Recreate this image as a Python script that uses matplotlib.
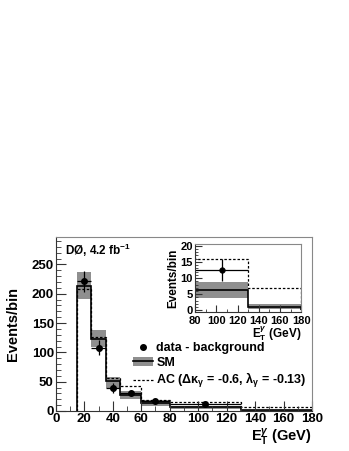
import numpy as np
from matplotlib import pyplot as plt
from matplotlib.lines import Line2D
from matplotlib.patches import Patch

# Bin edges in photon E_T (GeV)
edges = [15, 25, 35, 45, 60, 80, 130, 180]

# SM prediction and its uncertainty band
sm = [213, 123, 51, 28, 14, 6.3, 1.0]
sm_lo = [191, 109, 40, 21, 8.5, 3.8, 0.4]
sm_hi = [237, 138, 58, 34, 18, 8.9, 2.0]

# anomalous coupling prediction
ac = [208, 126, 56, 42, 18, 16, 6.9]

# data - background
data_x = [20, 30, 40, 52.5, 70, 105]
data_y = [221, 108, 40, 30.5, 17, 12.5]
data_err = [18, 13, 8.5, 5, 4, 3.5]

plt.rcParams["font.family"] = ["Liberation Sans", "DejaVu Sans"]
plt.rcParams["font.weight"] = "bold"
plt.rcParams["mathtext.fontset"] = "custom"
plt.rcParams["mathtext.rm"] = "Liberation Sans:bold"
plt.rcParams["mathtext.bf"] = "Liberation Sans:bold"
plt.rcParams["mathtext.it"] = "Liberation Sans:bold:italic"
plt.rcParams["mathtext.sf"] = "Liberation Sans:bold"

BAND = "#8f8f8f"
FRAME = "#888888"


def draw_hists(ax, ms=4):
    ax.stairs(sm_hi, edges, baseline=sm_lo, fill=True, color=BAND, lw=0)
    ax.stairs(sm, edges, baseline=0, color="black", lw=1.2)
    ax.stairs(ac, edges, baseline=0, color="black", lw=0.9, ls=(0, (2, 1.5)))
    widths = np.diff(edges)[: len(data_x)] / 2
    ax.errorbar(data_x, data_y, xerr=widths, yerr=data_err, fmt="o", ms=ms,
                color="black", elinewidth=0.9, capsize=0)


def style_frame(ax):
    for s in ax.spines.values():
        s.set_color(FRAME)
        s.set_linewidth(0.8)
    ax.spines["left"].set_color("#333333")
    ax.spines["bottom"].set_color("#333333")


fig = plt.figure(figsize=(3.49, 4.51), dpi=100)

# Main plot
ax = fig.add_axes([0.160, 0.0887, 0.734, 0.386])
draw_hists(ax)
ax.set_xlim(0, 180)
ax.set_ylim(0, 297)
ax.set_xticks(np.arange(0, 181, 20))
ax.set_xticks(np.arange(0, 181, 10), minor=True)
ax.set_yticks(np.arange(0, 251, 50))
ax.set_yticks(np.arange(0, 291, 10), minor=True)
ax.tick_params(which="both", direction="in", top=False, right=False,
               labelsize=9.5, pad=1.5, color="#333333")
ax.tick_params(which="major", length=7)
ax.tick_params(which="minor", length=3.5)
style_frame(ax)

ax.set_ylabel("Events/bin", fontsize=10.5, fontweight="bold")
ax.yaxis.set_label_coords(-0.14, 0.5)
ax.set_xlabel(r"$\mathbf{E}_\mathbf{T}^{\gamma}$ (GeV)", fontsize=10.5,
              fontweight="bold", loc="right", labelpad=1)
ax.text(0.035, 0.925, r"DØ, 4.2 fb$^{-1}$", transform=ax.transAxes,
        fontsize=8.5, fontweight="bold", va="center", ha="left")

handles = [
    Line2D([], [], marker="o", ms=4, ls="none", color="black"),
    (Patch(color=BAND, lw=0), Line2D([], [], color="black", lw=1.2)),
    Line2D([], [], color="black", lw=0.9, ls=(0, (2, 1.5))),
]
labels = [
    "data - background",
    "SM",
    r"AC (Δκ$_{\mathrm{γ}}$ = -0.6, λ$_{\mathrm{γ}}$ = -0.13)",
]
leg = ax.legend(handles, labels, loc="upper left", bbox_to_anchor=(0.30, 0.395),
                frameon=False, fontsize=9, handlelength=1.6,
                handletextpad=0.3, labelspacing=0.2, borderpad=0,
                borderaxespad=0)

# Inset
ins = fig.add_axes([0.559, 0.308, 0.304, 0.151])
draw_hists(ins, ms=3.5)
ins.set_xlim(80, 180)
ins.set_ylim(-0.5, 20.5)
ins.set_xticks(np.arange(80, 181, 20))
ins.set_xticks(np.arange(80, 181, 10), minor=True)
ins.set_yticks(np.arange(0, 21, 5))
ins.set_yticks(np.arange(0, 21, 1), minor=True)
ins.tick_params(which="both", direction="in", top=False, right=False,
                labelsize=8, color="#333333")
ins.tick_params(axis="x", pad=2.5)
ins.tick_params(axis="y", pad=1.5)
ins.tick_params(which="major", length=5)
ins.tick_params(which="minor", length=2.5)
style_frame(ins)
ins.set_ylabel("Events/bin", fontsize=8.5, fontweight="bold", labelpad=1)
ins.set_xlabel(r"$\mathbf{E}_\mathbf{T}^{\gamma}$ (GeV)", fontsize=8.5,
               fontweight="bold", loc="right", labelpad=-1)

fig.savefig("out.png", dpi=100)
